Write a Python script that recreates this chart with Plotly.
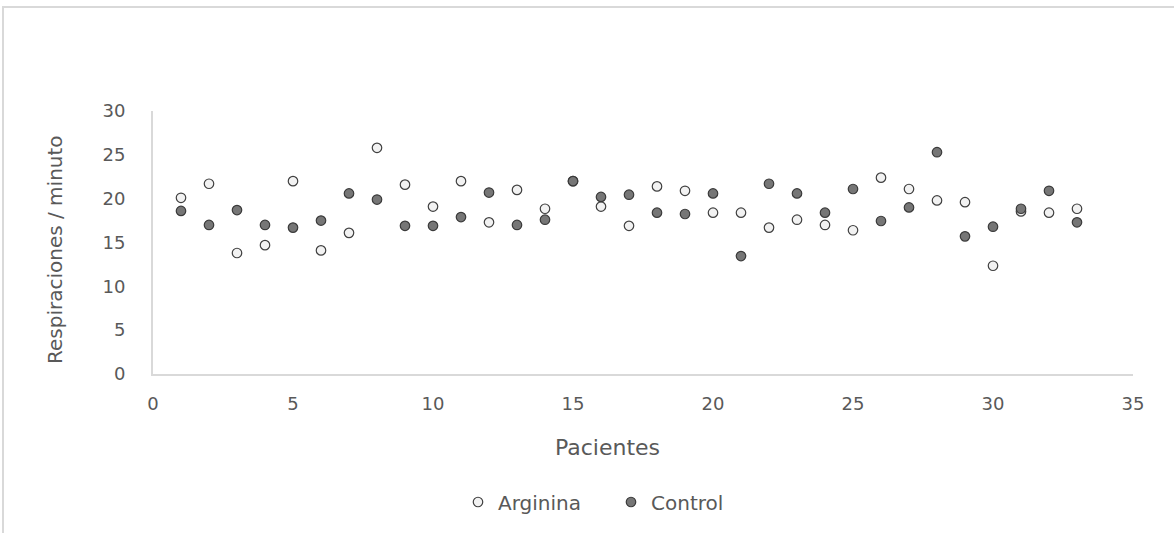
import plotly.graph_objects as go

pacientes = list(range(1, 34))
arginina = [20.1, 21.7, 13.8, 14.7, 22.0, 14.1, 16.1, 25.8, 21.6, 19.1,
            22.0, 17.3, 21.0, 18.85, 22.0, 19.1, 16.9, 21.4, 20.9, 18.4,
            18.4, 16.7, 17.6, 17.0, 16.4, 22.4, 21.1, 19.8, 19.6, 12.35,
            18.55, 18.4, 18.85]
control = [18.6, 17.0, 18.7, 17.0, 16.7, 17.5, 20.6, 19.9, 16.9, 16.9,
           17.9, 20.7, 17.0, 17.6, 22.0, 20.2, 20.45, 18.4, 18.25, 20.6,
           13.45, 21.7, 20.6, 18.4, 21.1, 17.45, 19.0, 25.3, 15.7, 16.8,
           18.85, 20.9, 17.3]

x_ticks = [0, 5, 10, 15, 20, 25, 30, 35]
y_ticks = [0, 5, 10, 15, 20, 25, 30]

FONT = "DejaVu Sans"
TXT = "#595959"
GRID = "#d9d9d9"

fig = go.Figure()
fig.add_trace(go.Scatter(
    x=pacientes, y=arginina, mode="markers", name="Arginina",
    marker=dict(size=9.5, color="#f2f2f2", line=dict(color="#404040", width=1.2)),
))
fig.add_trace(go.Scatter(
    x=pacientes, y=control, mode="markers", name="Control",
    marker=dict(size=9.5, color="#767676", line=dict(color="#3a3a3a", width=1.2)),
))

L, R, T, B = 153, 41, 111, 159
W, H = 1174, 533
pw = W - L - R
ph = H - T - B

def px_x(p):
    return (p - L) / pw

def px_y(p):
    return (H - B - p) / ph

fig.update_layout(
    width=W, height=H,
    margin=dict(l=L, r=R, t=T, b=B, pad=0),
    paper_bgcolor="white", plot_bgcolor="white",
    font=dict(family=FONT, color=TXT),
    showlegend=True,
    legend=dict(
        orientation="h", x=px_x(458), xanchor="left",
        y=px_y(502), yanchor="middle",
        font=dict(family=FONT, size=20, color=TXT),
        entrywidth=108, itemwidth=30,
        bgcolor="rgba(0,0,0,0)",
    ),
    xaxis=dict(
        range=[0, 35], tickvals=x_ticks, ticktext=[str(v) for v in x_ticks],
        showgrid=False, zeroline=False, showline=True, linecolor=GRID,
        linewidth=2, ticks="", tickfont=dict(family=FONT, size=18, color=TXT),
        ticklabelstandoff=12,
    ),
    yaxis=dict(
        range=[0, 30], tickvals=y_ticks, ticktext=[str(v) for v in y_ticks],
        showgrid=False, zeroline=False, showline=True, linecolor=GRID,
        linewidth=2, ticks="", tickfont=dict(family=FONT, size=18, color=TXT),
        ticklabelstandoff=22,
    ),
    annotations=[
        dict(text="Respiraciones / minuto", xref="paper", yref="paper",
             x=px_x(55), y=px_y(250), xanchor="center", yanchor="middle",
             textangle=-90, showarrow=False,
             font=dict(family=FONT, size=20, color=TXT)),
        dict(text="Pacientes", xref="paper", yref="paper",
             x=px_x(607), y=px_y(447), xanchor="center", yanchor="middle",
             showarrow=False, font=dict(family=FONT, size=22, color=TXT)),
    ],
    shapes=[
        dict(type="rect", xref="paper", yref="paper",
             x0=px_x(3), x1=px_x(1220), y0=px_y(560), y1=px_y(7),
             line=dict(color=GRID, width=2), fillcolor="rgba(0,0,0,0)",
             layer="below"),
    ],
)

fig.write_html("out.html")
